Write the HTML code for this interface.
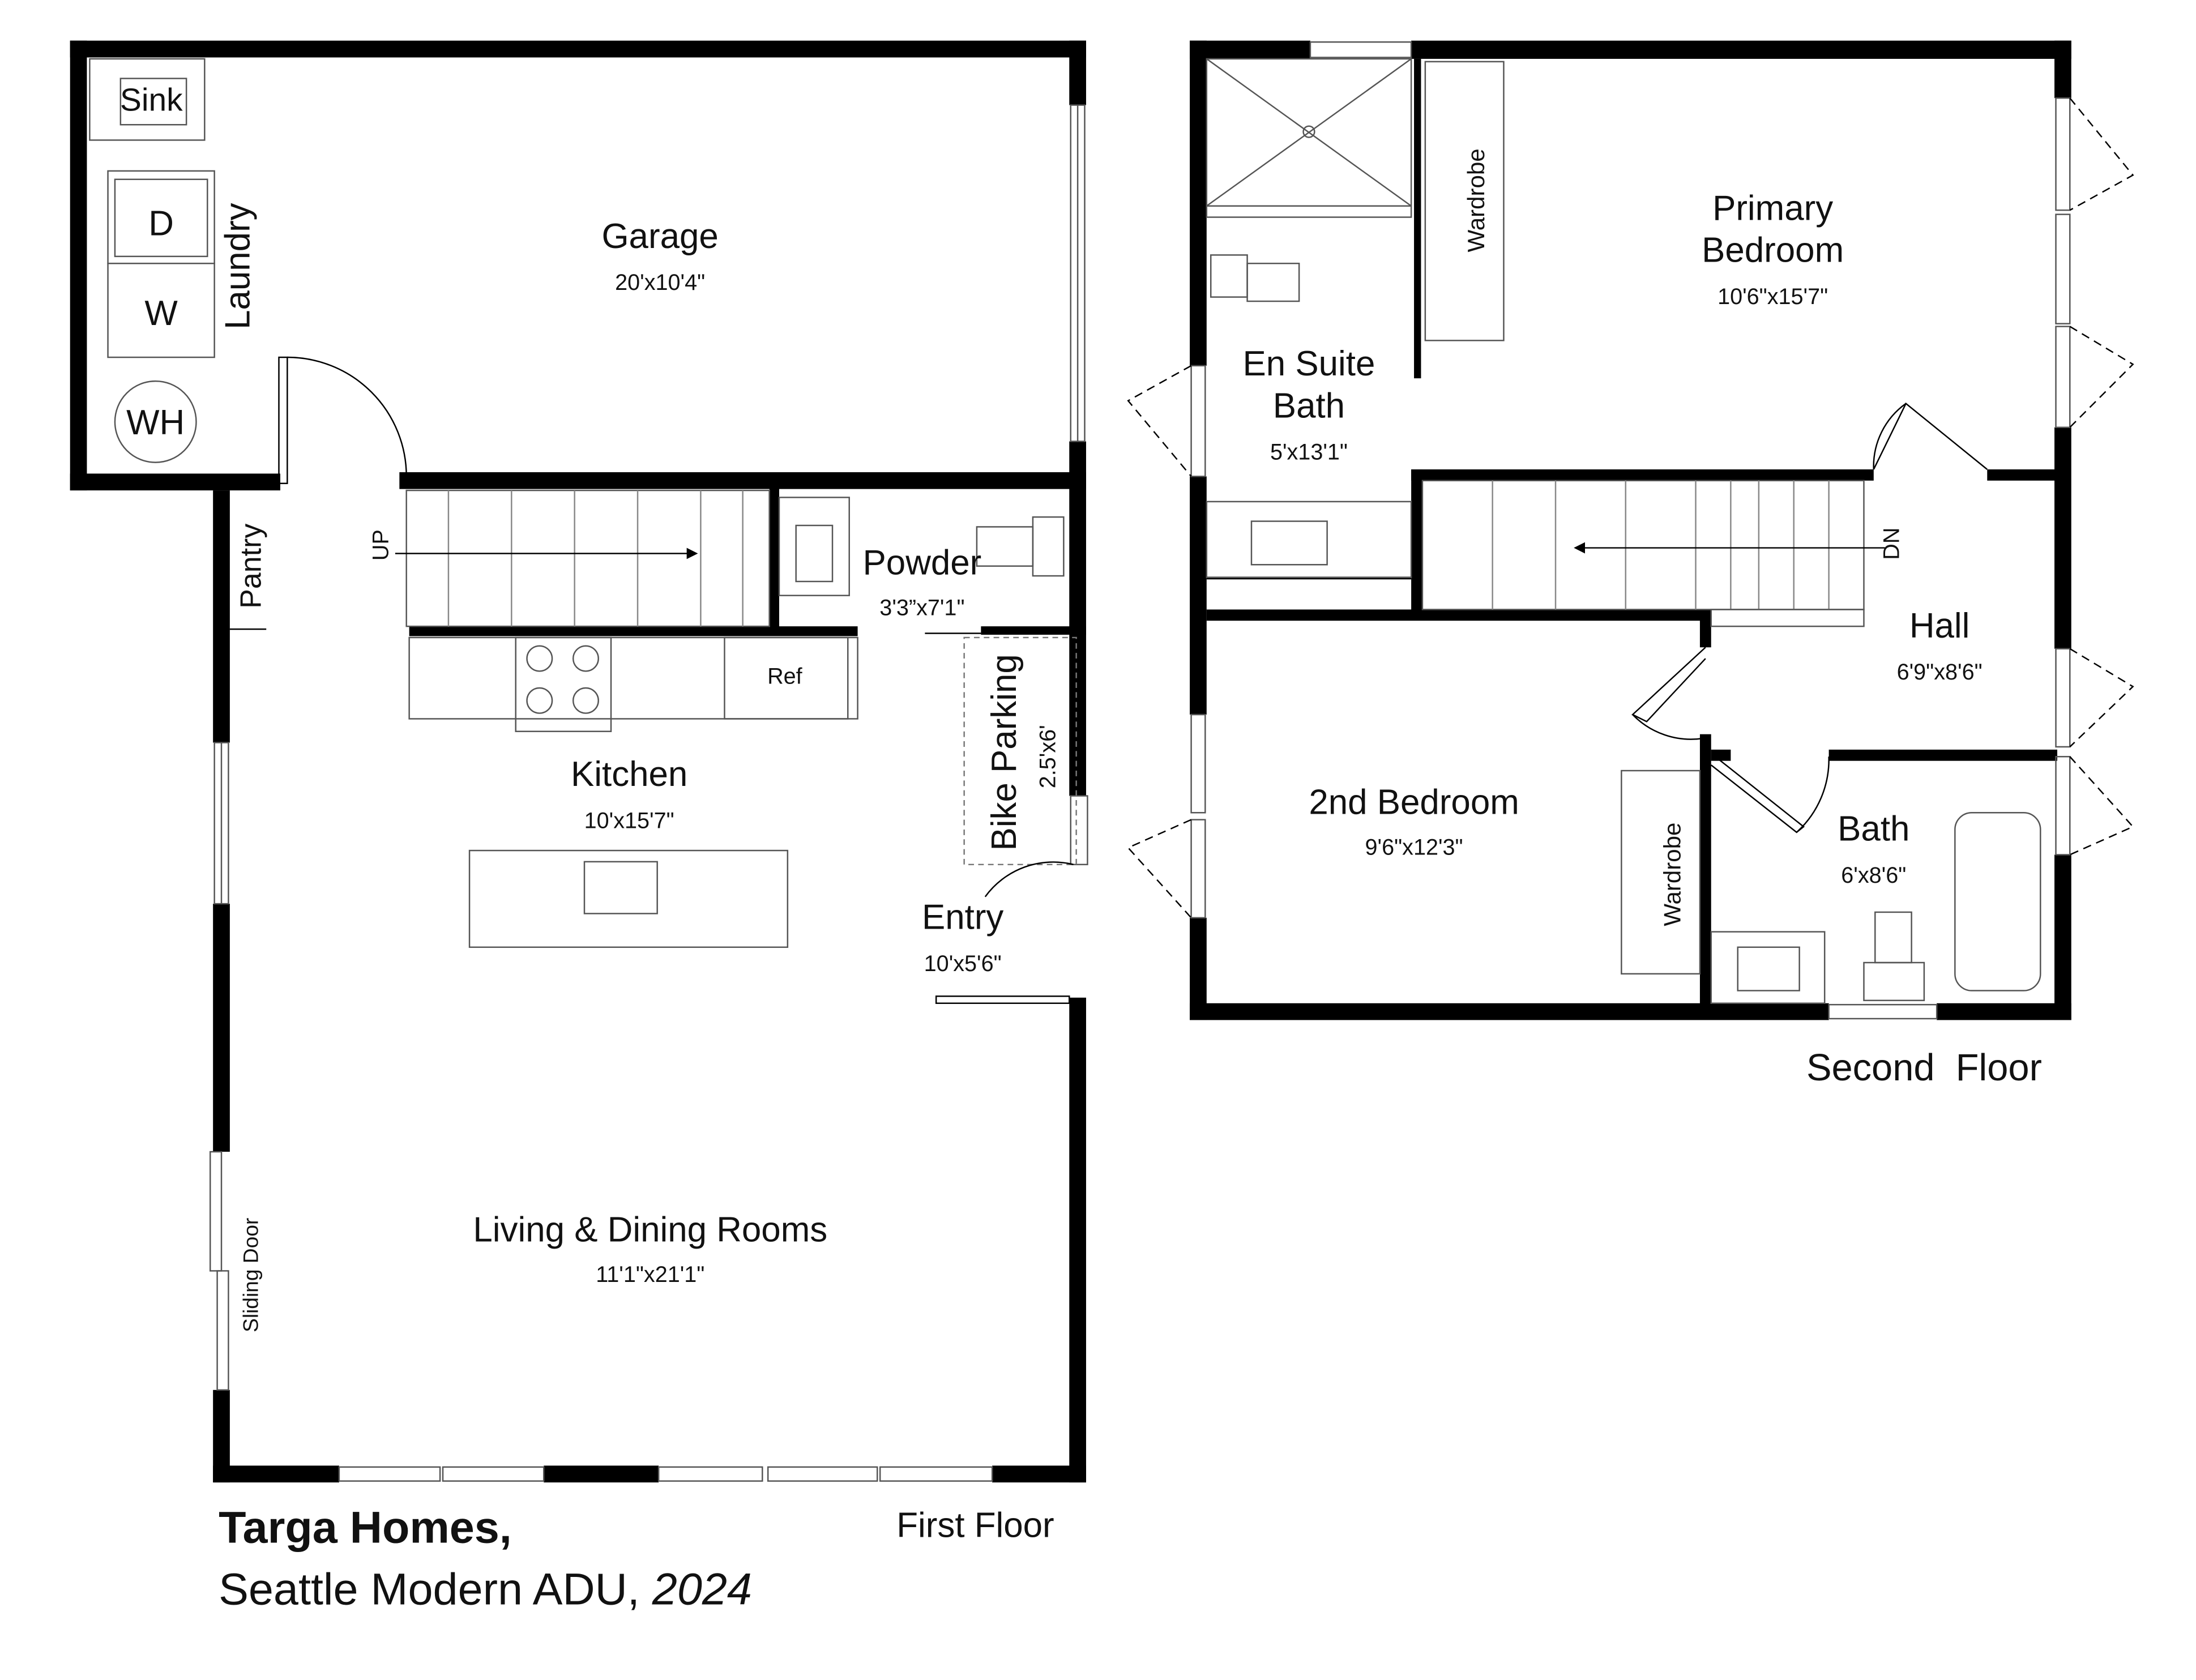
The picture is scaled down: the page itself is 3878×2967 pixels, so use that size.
<!DOCTYPE html>
<html><head><meta charset="utf-8"><style>
html,body{margin:0;padding:0;background:#fff}
svg{display:block}
text{font-family:"Liberation Sans",sans-serif;fill:#111}
</style></head><body>
<svg width="3878" height="2967" viewBox="0 0 1567 1199" preserveAspectRatio="none" xmlns="http://www.w3.org/2000/svg">
<rect width="1567" height="1199" fill="#fff"/>
<g fill="#000">
<rect x="50" y="29" width="725" height="12"/>
<rect x="50" y="29" width="12" height="321"/>
<rect x="50" y="338" width="150" height="12"/>
<rect x="763" y="29" width="12" height="46"/>
<rect x="763" y="315" width="12" height="253"/>
<rect x="285" y="337" width="490" height="12"/>
<rect x="152" y="350" width="12" height="180"/>
<rect x="152" y="645" width="12" height="177"/>
<rect x="152" y="992" width="12" height="66"/>
<rect x="152" y="1046" width="90" height="12"/>
<rect x="388" y="1046" width="82" height="12"/>
<rect x="708" y="1046" width="67" height="12"/>
<rect x="763" y="712" width="12" height="346"/>
<rect x="549" y="345" width="7" height="103"/>
<rect x="292" y="447" width="320" height="7"/>
<rect x="700" y="447" width="75" height="6"/>
<rect x="849" y="29" width="86" height="13"/>
<rect x="1007" y="29" width="471" height="13"/>
<rect x="849" y="29" width="12" height="232"/>
<rect x="849" y="340" width="12" height="170"/>
<rect x="849" y="655" width="12" height="73"/>
<rect x="1466" y="29" width="12" height="41"/>
<rect x="1466" y="305" width="12" height="158"/>
<rect x="1466" y="610" width="12" height="118"/>
<rect x="849" y="716" width="456" height="12"/>
<rect x="1382" y="716" width="96" height="12"/>
<rect x="1007" y="335" width="330" height="8"/>
<rect x="1418" y="335" width="50" height="8"/>
<rect x="1007" y="335" width="8" height="102"/>
<rect x="861" y="435" width="360" height="8"/>
<rect x="1213" y="435" width="8" height="27"/>
<rect x="1213" y="524" width="8" height="196"/>
<rect x="1305" y="535" width="163" height="8"/>
<rect x="1221" y="535" width="14" height="8"/>
<rect x="1009" y="42" width="5" height="228"/>
</g>
<g fill="none" stroke="#555" stroke-width="1">
<rect x="764" y="75" width="10" height="240"/><line x1="769" y1="75" x2="769" y2="315"/>
<rect x="153" y="530" width="10" height="115"/><line x1="158" y1="530" x2="158" y2="645"/>
<rect x="150" y="822" width="8" height="85"/><rect x="155" y="907" width="8" height="85"/>
<rect x="242" y="1047" width="72" height="10"/><rect x="316" y="1047" width="72" height="10"/>
<rect x="470" y="1047" width="74" height="10"/><rect x="548" y="1047" width="78" height="10"/><rect x="628" y="1047" width="80" height="10"/>
<rect x="764" y="568" width="12" height="49"/>
<rect x="668" y="711" width="95" height="5" stroke="#000"/>
<line x1="164" y1="449" x2="190" y2="449" stroke="#000"/>
<rect x="64" y="42" width="82" height="58"/><rect x="86" y="56" width="47" height="33"/>
<rect x="77" y="122" width="76" height="66"/><rect x="82" y="128" width="66" height="55"/>
<rect x="77" y="188" width="76" height="67"/>
<circle cx="111" cy="301" r="29"/>
<rect x="199" y="255" width="6" height="90" stroke="#000"/>
<path d="M205 255 A85 85 0 0 1 290 340" stroke="#000"/>
<rect x="290" y="350" width="259" height="97"/>
<g stroke="#888"><line x1="320" y1="350" x2="320" y2="447"/><line x1="365" y1="350" x2="365" y2="447"/><line x1="410" y1="350" x2="410" y2="447"/><line x1="455" y1="350" x2="455" y2="447"/><line x1="500" y1="350" x2="500" y2="447"/><line x1="530" y1="350" x2="530" y2="447"/></g>
<line x1="282" y1="395" x2="492" y2="395" stroke="#000"/>
<rect x="292" y="455" width="320" height="58"/>
<rect x="368" y="455" width="68" height="67"/>
<circle cx="385" cy="470" r="9"/><circle cx="418" cy="470" r="9"/><circle cx="385" cy="500" r="9"/><circle cx="418" cy="500" r="9"/>
<rect x="517" y="455" width="88" height="58"/>
<rect x="335" y="607" width="227" height="69"/><rect x="417" y="615" width="52" height="37"/>
<rect x="556" y="355" width="50" height="70"/><rect x="568" y="375" width="26" height="40"/>
<rect x="697" y="376" width="40" height="28"/><rect x="737" y="369" width="22" height="42"/>
<line x1="660" y1="452" x2="700" y2="452" stroke="#000"/>
<rect x="688" y="455" width="80" height="162" stroke-dasharray="4 3" stroke="#777"/>
<path d="M703 640 A60 60 0 0 1 766 617" stroke="#000"/>
<rect x="935" y="30" width="72" height="11"/>
<rect x="850" y="261" width="10" height="79"/>
<path d="M850 261 L805 286 L850 340" stroke="#000" stroke-dasharray="6 4"/>
<rect x="850" y="510" width="10" height="70"/><rect x="850" y="585" width="10" height="70"/>
<path d="M850 585 L805 605 L850 655" stroke="#000" stroke-dasharray="6 4"/>
<rect x="1467" y="70" width="10" height="80"/><rect x="1467" y="153" width="10" height="78"/><rect x="1467" y="233" width="10" height="72"/>
<path d="M1477 70 L1522 125 L1477 150" stroke="#000" stroke-dasharray="6 4"/>
<path d="M1477 233 L1522 260 L1477 305" stroke="#000" stroke-dasharray="6 4"/>
<rect x="1467" y="463" width="10" height="70"/><rect x="1467" y="540" width="10" height="70"/>
<path d="M1477 463 L1522 490 L1477 533" stroke="#000" stroke-dasharray="6 4"/>
<path d="M1477 540 L1522 590 L1477 610" stroke="#000" stroke-dasharray="6 4"/>
<rect x="1305" y="717" width="77" height="10"/>
<rect x="861" y="42" width="146" height="113"/>
<line x1="861" y1="42" x2="1007" y2="147"/><line x1="1007" y1="42" x2="861" y2="147"/>
<circle cx="934" cy="94" r="4"/>
<line x1="861" y1="147" x2="1007" y2="147"/>
<rect x="864" y="182" width="26" height="30"/><rect x="890" y="188" width="37" height="27"/>
<rect x="1017" y="44" width="56" height="199"/>
<rect x="861" y="358" width="146" height="54"/><rect x="893" y="372" width="54" height="31"/>
<line x1="861" y1="413" x2="1007" y2="413" stroke="#000"/>
<rect x="1015" y="343" width="315" height="92"/>
<g stroke="#888"><line x1="1065" y1="343" x2="1065" y2="435"/><line x1="1110" y1="343" x2="1110" y2="435"/><line x1="1160" y1="343" x2="1160" y2="435"/><line x1="1210" y1="343" x2="1210" y2="435"/><line x1="1235" y1="343" x2="1235" y2="435"/><line x1="1255" y1="343" x2="1255" y2="435"/><line x1="1280" y1="343" x2="1280" y2="435"/><line x1="1305" y1="343" x2="1305" y2="435"/></g>
<rect x="1221" y="435" width="109" height="12"/>
<line x1="1128" y1="391" x2="1345" y2="391" stroke="#000"/>
<path d="M1337 335 L1360 288 L1418 335" stroke="#000"/>
<path d="M1337 335 A55 55 0 0 1 1360 288" stroke="#000"/>
<path d="M1217 462 L1165 510 L1175 515 L1217 470" stroke="#000"/>
<path d="M1165 510 A58 58 0 0 0 1215 527" stroke="#000"/>
<path d="M1224 540 L1287 590 L1282 594 L1221 546" stroke="#000"/>
<path d="M1282 594 A70 70 0 0 0 1305 540" stroke="#000"/>
<rect x="1157" y="550" width="56" height="145"/>
<rect x="1221" y="665" width="81" height="51"/><rect x="1240" y="676" width="44" height="31"/>
<rect x="1338" y="651" width="26" height="36"/><rect x="1330" y="687" width="43" height="27"/>
<rect x="1395" y="580" width="61" height="127" rx="12"/>
</g>
<polygon points="498,395 490,391 490,399" fill="#000"/>
<polygon points="1123,391 1131,387 1131,395" fill="#000"/>
<g font-size="25" text-anchor="middle">
<text x="108" y="79" font-size="23">Sink</text>
<text x="115" y="168">D</text><text x="115" y="232">W</text><text x="111" y="310">WH</text>
<text x="178" y="190" transform="rotate(-90 178 190)">Laundry</text>
<text x="471" y="177">Garage</text>
<text x="471" y="207" font-size="16">20'x10'4"</text>
<text x="186" y="404" font-size="21" transform="rotate(-90 186 404)">Pantry</text>
<text x="277" y="389" font-size="16" transform="rotate(-90 277 389)">UP</text>
<text x="658" y="410">Powder</text>
<text x="658" y="439" font-size="16">3'3”x7'1"</text>
<text x="560" y="488" font-size="16">Ref</text>
<text x="725" y="537" transform="rotate(-90 725 537)">Bike Parking</text>
<text x="753" y="540" font-size="16" transform="rotate(-90 753 540)">2.5'x6'</text>
<text x="449" y="561">Kitchen</text>
<text x="449" y="591" font-size="16">10'x15'7"</text>
<text x="687" y="663">Entry</text>
<text x="687" y="693" font-size="16">10'x5'6"</text>
<text x="184" y="910" font-size="15" transform="rotate(-90 184 910)">Sliding Door</text>
<text x="464" y="886">Living &amp; Dining Rooms</text>
<text x="464" y="915" font-size="16">11'1"x21'1"</text>
<text x="696" y="1097">First Floor</text>
<text x="1059" y="143" font-size="17" transform="rotate(-90 1059 143)">Wardrobe</text>
<text x="1265" y="157">Primary</text>
<text x="1265" y="187">Bedroom</text>
<text x="1265" y="217" font-size="16">10'6"x15'7"</text>
<text x="934" y="268">En Suite</text>
<text x="934" y="298">Bath</text>
<text x="934" y="328" font-size="16">5'x13'1"</text>
<text x="1355" y="388" font-size="16" transform="rotate(-90 1355 388)">DN</text>
<text x="1384" y="455">Hall</text>
<text x="1384" y="485" font-size="16">6'9"x8'6"</text>
<text x="1009" y="581">2nd Bedroom</text>
<text x="1009" y="610" font-size="16">9'6"x12'3"</text>
<text x="1199" y="624" font-size="17" transform="rotate(-90 1199 624)">Wardrobe</text>
<text x="1337" y="600">Bath</text>
<text x="1337" y="630" font-size="16">6'x8'6"</text>
<text x="1373" y="771" font-size="27" xml:space="preserve">Second  Floor</text>
</g>
<text x="156" y="1101" font-size="32" font-weight="bold">Targa Homes,</text>
<text x="156" y="1145" font-size="32">Seattle Modern ADU, <tspan font-style="italic">2024</tspan></text>
</svg>
</body></html>
